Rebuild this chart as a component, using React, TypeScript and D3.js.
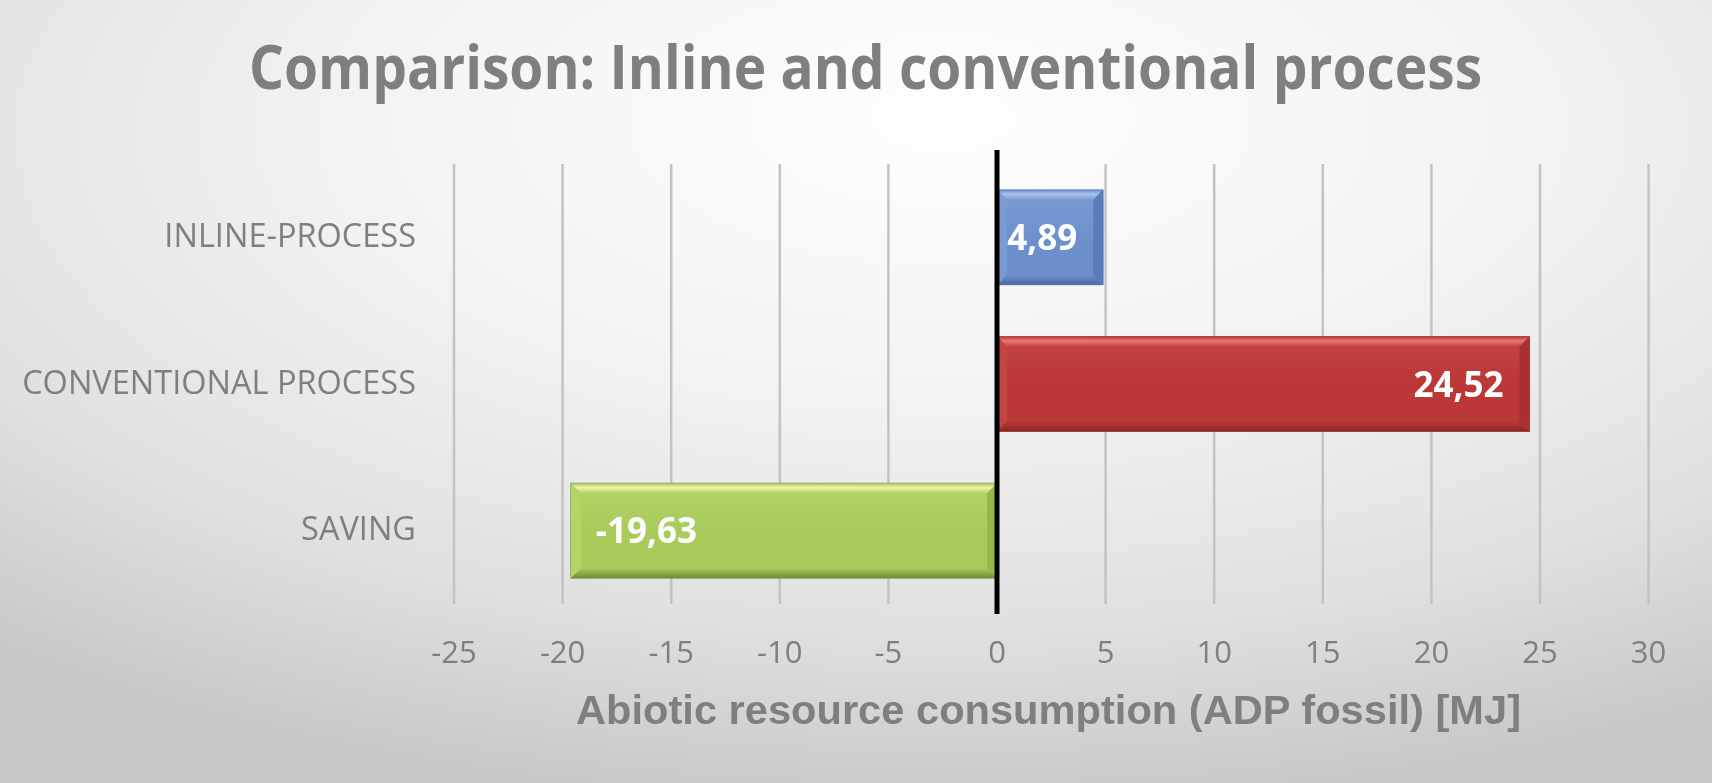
import React from "react";
import * as d3 from "d3";

const categories = ["INLINE-PROCESS", "CONVENTIONAL PROCESS", "SAVING"];
const values = [4.89, 24.52, -19.63];
const valueLabels = ["4,89", "24,52", "-19,63"];
const barColors = [
  { base: "#6d90cd", light: "#a9c2ea", dark: "#4a6aa3", side: "#7b9bd3", sideDark: "#5a7cba" },
  { base: "#bc3737", light: "#e87878", dark: "#8a2626", side: "#c44444", sideDark: "#a83030" },
  { base: "#a8cb5c", light: "#eef5a6", dark: "#6f8c38", side: "#b4d468", sideDark: "#94b84c" },
];
const tickValues = [-25, -20, -15, -10, -5, 0, 5, 10, 15, 20, 25, 30];
const title = "Comparison: Inline and conventional process";
const axisTitle = "Abiotic resource consumption (ADP fossil) [MJ]";

const W = 1712;
const H = 783;

export default function App() {
  const x = d3.scaleLinear().domain([-25, 30]).range([454, 1648.6]);
  const y = d3
    .scaleBand<string>()
    .domain(categories)
    .range([164, 604])
    .paddingInner(0.352)
    .paddingOuter(0.176);
  const bw = y.bandwidth();
  const b = 10;
  const gray = "#7f7f7f";

  return (
    <svg
      width={W}
      height={H}
      style={{ position: "fixed", left: 0, top: 0, display: "block" }}
    >
      <defs>
        <radialGradient id="bg" cx="55%" cy="18%" r="85%" fx="55%" fy="15%">
          <stop offset="0%" stopColor="#fefefe" />
          <stop offset="40%" stopColor="#f3f3f3" />
          <stop offset="75%" stopColor="#e0e0e0" />
          <stop offset="100%" stopColor="#c8c8c8" />
        </radialGradient>
        {barColors.map((c, i) => (
          <linearGradient key={i} id={`face${i}`} x1="0" y1="0" x2="0" y2="1">
            <stop offset="0%" stopColor={c.side} />
            <stop offset="50%" stopColor={c.base} />
            <stop offset="100%" stopColor={c.base} />
          </linearGradient>
        ))}
        {barColors.map((c, i) => (
          <linearGradient key={"t" + i} id={`top${i}`} x1="0" y1="0" x2="0" y2="1">
            <stop offset="0%" stopColor={c.base} />
            <stop offset="45%" stopColor={c.light} />
            <stop offset="100%" stopColor={c.side} />
          </linearGradient>
        ))}
        {barColors.map((c, i) => (
          <linearGradient key={"b" + i} id={`bot${i}`} x1="0" y1="0" x2="0" y2="1">
            <stop offset="0%" stopColor={c.base} />
            <stop offset="100%" stopColor={c.dark} />
          </linearGradient>
        ))}
      </defs>
      <rect x={0} y={0} width={W} height={H} fill="url(#bg)" />

      <text
        x={865.5}
        y={89}
        textAnchor="middle"
        fontFamily="'Open Sans', sans-serif"
        fontWeight="bold"
        fontSize={61}
        fill={gray}
        textLength={1233}
        lengthAdjust="spacingAndGlyphs"
      >
        {title}
      </text>

      {/* gridlines */}
      {tickValues
        .filter((t) => t !== 0)
        .map((t) => (
          <line
            key={t}
            x1={x(t)}
            x2={x(t)}
            y1={164}
            y2={604}
            stroke="#c3c3c3"
            strokeWidth={2.5}
          />
        ))}

      {/* category labels */}
      {categories.map((c) => (
        <text
          key={c}
          x={416}
          y={(y(c) as number) + bw / 2 + 9.5}
          textAnchor="end"
          fontFamily="'Open Sans', sans-serif"
          fontSize={32.5}
          fill={gray}
        >
          {c}
        </text>
      ))}

      {/* bars */}
      {categories.map((c, i) => {
        const v = values[i];
        const x0 = Math.min(x(0), x(v));
        const x1 = Math.max(x(0), x(v));
        const y0 = y(c) as number;
        const y1 = y0 + bw;
        const col = barColors[i];
        const pts = (arr: number[][]) => arr.map((p) => p.join(",")).join(" ");
        const labelX = v >= 0 ? x(v) - 26 : x(v) + 25;
        return (
          <g key={c}>
            <rect x={x0} y={y0} width={x1 - x0} height={bw} fill={`url(#face${i})`} />
            <polygon
              points={pts([[x0, y0], [x1, y0], [x1 - b, y0 + b], [x0 + b, y0 + b]])}
              fill={`url(#top${i})`}
            />
            <polygon
              points={pts([[x0, y1], [x1, y1], [x1 - b, y1 - b], [x0 + b, y1 - b]])}
              fill={`url(#bot${i})`}
            />
            <polygon
              points={pts([[x0, y0], [x0 + b, y0 + b], [x0 + b, y1 - b], [x0, y1]])}
              fill={col.side}
            />
            <polygon
              points={pts([[x1, y0], [x1 - b, y0 + b], [x1 - b, y1 - b], [x1, y1]])}
              fill={col.sideDark}
            />
            <rect
              x={x0}
              y={y0}
              width={x1 - x0}
              height={bw}
              fill="none"
              stroke={col.dark}
              strokeOpacity={0.5}
              strokeWidth={1}
            />
            <text
              x={labelX}
              y={y0 + bw / 2 + 12.5}
              textAnchor={v >= 0 ? "end" : "start"}
              fontFamily="'Open Sans', sans-serif"
              fontWeight="bold"
              fontSize={35}
              fill="#ffffff"
            >
              {valueLabels[i]}
            </text>
          </g>
        );
      })}

      {/* zero axis */}
      <line x1={x(0)} x2={x(0)} y1={150} y2={614} stroke="#000000" strokeWidth={5} />

      {/* tick labels */}
      {tickValues.map((t) => (
        <text
          key={t}
          x={x(t)}
          y={663}
          textAnchor="middle"
          fontFamily="'Open Sans', sans-serif"
          fontSize={31}
          fill={gray}
        >
          {String(t)}
        </text>
      ))}

      <text
        x={1048.5}
        y={724}
        textAnchor="middle"
        fontFamily="'Liberation Sans', Arial, sans-serif"
        fontWeight="bold"
        fontSize={40}
        fill={gray}
        textLength={945}
        lengthAdjust="spacingAndGlyphs"
      >
        {axisTitle}
      </text>
    </svg>
  );
}
